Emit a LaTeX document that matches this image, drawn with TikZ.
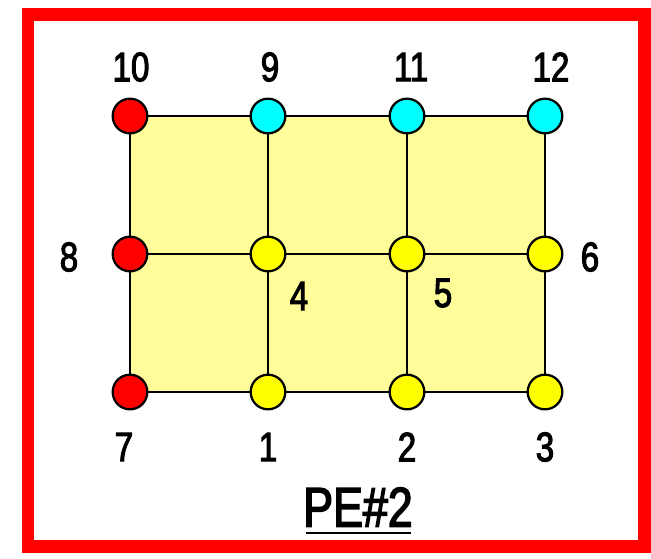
\documentclass[tikz,border=0pt]{standalone}
\usepackage{fontspec}
\setmainfont{Liberation Sans}[FakeStretch=0.8,FakeBold=2.5]
\definecolor{nred}{RGB}{255,0,0}
\definecolor{ncyan}{RGB}{0,255,255}
\definecolor{nyellow}{RGB}{255,255,0}
\definecolor{pale}{RGB}{255,253,153}
\begin{document}
\begin{tikzpicture}[x=0.75pt,y=-0.75pt,
  pt/.style={circle,draw=black,line width=1.7pt,minimum size=26pt,inner sep=0pt},
  rn/.style={pt,fill=nred},
  cn/.style={pt,fill=ncyan},
  yn/.style={pt,fill=nyellow},
  lab/.style={font=\fontsize{31}{31}\selectfont,inner sep=0pt},
  edge/.style={line width=1.7pt,black}]
\useasboundingbox (0,0) rectangle (651,558);
\draw[nred,line width=9.5pt] (28,14.5) rectangle (644.5,546.5);
\fill[pale] (130,116) rectangle (545,392);
% nodes
\node[rn] (n10) at (130,116) {};
\node[cn] (n9) at (268,116) {};
\node[cn] (n11) at (407,116) {};
\node[cn] (n12) at (545,116) {};
\node[rn] (n8) at (130,254) {};
\node[yn] (n4) at (268,254) {};
\node[yn] (n5) at (407,254) {};
\node[yn] (n6) at (545,254) {};
\node[rn] (n7) at (130,392) {};
\node[yn] (n1) at (268,392) {};
\node[yn] (n2) at (407,392) {};
\node[yn] (n3) at (545,392) {};
% edges
\draw[edge] (n10) -- (n9); \draw[edge] (n9) -- (n11); \draw[edge] (n11) -- (n12);
\draw[edge] (n8) -- (n4); \draw[edge] (n4) -- (n5); \draw[edge] (n5) -- (n6);
\draw[edge] (n7) -- (n1); \draw[edge] (n1) -- (n2); \draw[edge] (n2) -- (n3);
\draw[edge] (n10) -- (n8); \draw[edge] (n8) -- (n7);
\draw[edge] (n9) -- (n4); \draw[edge] (n4) -- (n1);
\draw[edge] (n11) -- (n5); \draw[edge] (n5) -- (n2);
\draw[edge] (n12) -- (n6); \draw[edge] (n6) -- (n3);
% labels
\node[lab] (l10) at (131,67) {10};
\node[lab] (l9) at (270,67) {9};
\node[lab] (l11) at (411,67) {11};
\node[lab] (l12) at (551,67) {12};
\node[lab] (l8) at (69,257) {8};
\node[lab] (l6) at (590,257) {6};
\node[lab] (l4) at (299,296) {4};
\node[lab] (l5) at (443,293) {5};
\node[lab] (l7) at (124,447) {7};
\node[lab] (l1) at (268,447) {1};
\node[lab] (l2) at (407,447) {2};
\node[lab] (l3) at (545,447) {3};
\node[font=\fontsize{42}{42}\selectfont,inner sep=0pt] (pe) at (358,507) {PE\#2};
\draw[line width=1.8pt] (306,533) -- (411,533);
\end{tikzpicture}
\end{document}
